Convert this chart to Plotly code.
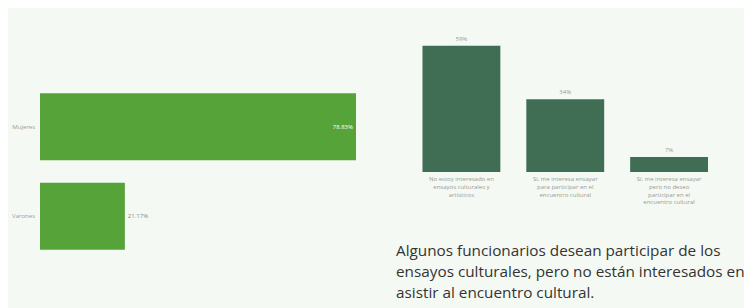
import plotly.graph_objects as go

W, H = 752, 308
OFF = 8  # page body margin offset

# Left chart data
sexo_cats = ["Mujeres", "Varones"]
sexo_vals = [78.83, 21.17]
sexo_text = ["78.83%", "21.17%"]

# Right chart data
interes_cats = [
    "No estoy interesado en<br>ensayos culturales y<br>artísticos",
    "Sí, me interesa ensayar<br>para participar en el<br>encuentro cultural",
    "Sí, me interesa ensayar<br>pero no deseo<br>participar en el<br>encuentro cultural",
]
interes_vals = [59, 34, 7]
interes_text = ["59%", "34%", "7%"]

note_lines = [
    "Algunos funcionarios desean participar de los",
    "ensayos culturales, pero no están interesados en",
    "asistir al encuentro cultural.",
]

BG = "#f5f9f3"
FONT = "Open Sans, Noto Sans, sans-serif"

def px(x):
    return (x - OFF) / W

def py(y):
    return 1 - (y - OFF) / H

fig = go.Figure()

fig.add_trace(go.Bar(
    x=sexo_vals, y=sexo_cats, orientation="h",
    marker=dict(color="#56a33a", line=dict(width=0)),
    text=sexo_text, textposition=["inside", "outside"],
    insidetextanchor="end",
    textfont=dict(size=6),
    insidetextfont=dict(color="white", size=6),
    outsidetextfont=dict(color="#888888", size=6),
    cliponaxis=False,
    xaxis="x", yaxis="y", showlegend=False,
))

fig.add_trace(go.Bar(
    x=interes_cats, y=interes_vals,
    marker=dict(color="#3f6e55", line=dict(width=0)),
    text=interes_text, textposition="outside",
    textfont=dict(size=6, color="#999999"),
    cliponaxis=False,
    xaxis="x2", yaxis="y2", showlegend=False,
))

line_centers = [250, 271, 292]
annotations = [
    dict(x=px(394), y=py(yc), xref="paper", yref="paper",
         xanchor="left", yanchor="middle", align="left",
         text=t, showarrow=False,
         font=dict(size=15.3, color="#333333", family=FONT))
    for t, yc in zip(note_lines, line_centers)
]

scale_left = 316 / 78.83
fig.update_layout(
    width=W, height=H, autosize=False,
    margin=dict(l=0, r=0, t=0, b=0),
    paper_bgcolor=BG, plot_bgcolor=BG,
    font=dict(family=FONT, color="#333333"),
    bargap=0.25,
    xaxis=dict(domain=[px(40), px(40 + 80 * scale_left)], range=[0, 80],
               visible=False, fixedrange=True),
    yaxis=dict(domain=[py(261), py(82)], autorange="reversed",
               showgrid=False, zeroline=False, showline=False,
               tickfont=dict(size=6, color="#999999"), ticks="",
               ticklabelstandoff=4),
    xaxis2=dict(domain=[px(409.5), px(721)], anchor="y2",
                showgrid=False, zeroline=False, showline=False, ticks="",
                tickfont=dict(size=6, color="#999999"), tickangle=0,
                ticklabelstandoff=2),
    yaxis2=dict(domain=[py(172), py(33)], range=[0, 65], anchor="x2",
                visible=False),
    annotations=annotations,
)

fig.write_html("out.html")
